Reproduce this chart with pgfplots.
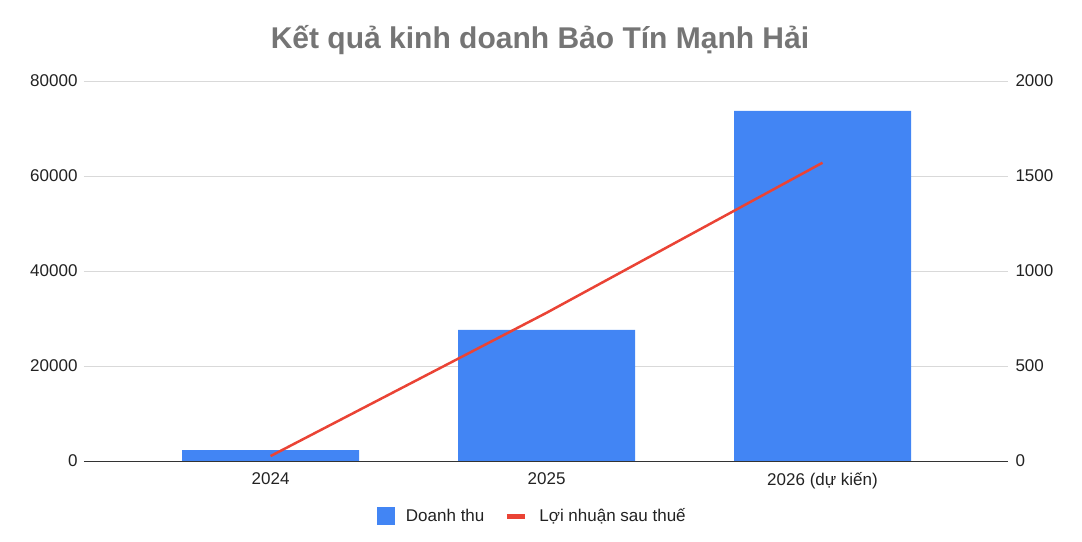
\documentclass[border=0pt]{standalone}
\usepackage{pgfplots}
\pgfplotsset{compat=1.18}
\usepackage{fontspec}
\setmainfont{Liberation Sans}
\definecolor{barblue}{HTML}{4285F4}
\definecolor{linered}{HTML}{EA4335}
\definecolor{gridgray}{HTML}{D9D9D9}
\definecolor{titlegray}{HTML}{757575}
\definecolor{txt}{HTML}{222222}
\begin{document}
\begin{tikzpicture}
\useasboundingbox (-84bp,-81bp) rectangle (998bp,461bp);
\pgfplotsset{every axis/.append style={
 scale only axis, width=924bp, height=380bp, at={(0,0)}, anchor=south west,
 xmin=-0.676, xmax=2.672, xtick={0,1,2},
 axis line style={draw=none}, major tick length=0pt,
 tick label style={font=\fontsize{17bp}{20bp}\selectfont, text=txt},
 /pgf/number format/assume math mode=true,
 /pgf/number format/1000 sep={},
 scaled y ticks=false,
}}
\begin{axis}[
 ymin=0, ymax=80000, ytick={0,20000,...,80000},
 ymajorgrids, grid style={gridgray, line width=1bp},
 xticklabels={2024,2025,2026 (dự kiến)},
 xticklabel style={yshift=-8bp},
 yticklabel style={xshift=-3bp},
 ybar, bar width=177bp, bar shift=0pt,
]
\addplot[fill=barblue, draw=none] coordinates {(0,2300) (1,27600) (2,73700)};
\draw[color=black!80, line width=1bp] (axis cs:-0.676,0) -- (axis cs:2.672,0);
\end{axis}
\begin{axis}[
 ymin=0, ymax=2000, ytick={0,500,...,2000},
 yticklabel pos=right, xticklabels={},
 yticklabel style={xshift=4bp},
 legend style={at={(0.485,-0.145)}, anchor=center, draw=none, fill=none,
   font=\fontsize{17bp}{20bp}\selectfont, text=txt,
   /tikz/every odd column/.append style={column sep=10bp},
   /tikz/every even column/.append style={column sep=18bp}},
 legend columns=2,
]
\addlegendimage{legend image code/.code={\fill[barblue] (0bp,-8.5bp) rectangle (17bp,8.5bp);}}
\addlegendentry{Doanh thu}
\addplot[linered, line width=2.5bp, legend image code/.code={\draw[linered, line width=5bp] (0bp,0bp) -- (18bp,0bp);}] coordinates {(0,26) (1,780) (2,1570)};
\addlegendentry{Lợi nhuận sau thuế}
\end{axis}
\node[font=\fontsize{30bp}{34bp}\selectfont\bfseries, text=titlegray] at (456bp,421bp) {Kết quả kinh doanh Bảo Tín Mạnh Hải};
\end{tikzpicture}
\end{document}
